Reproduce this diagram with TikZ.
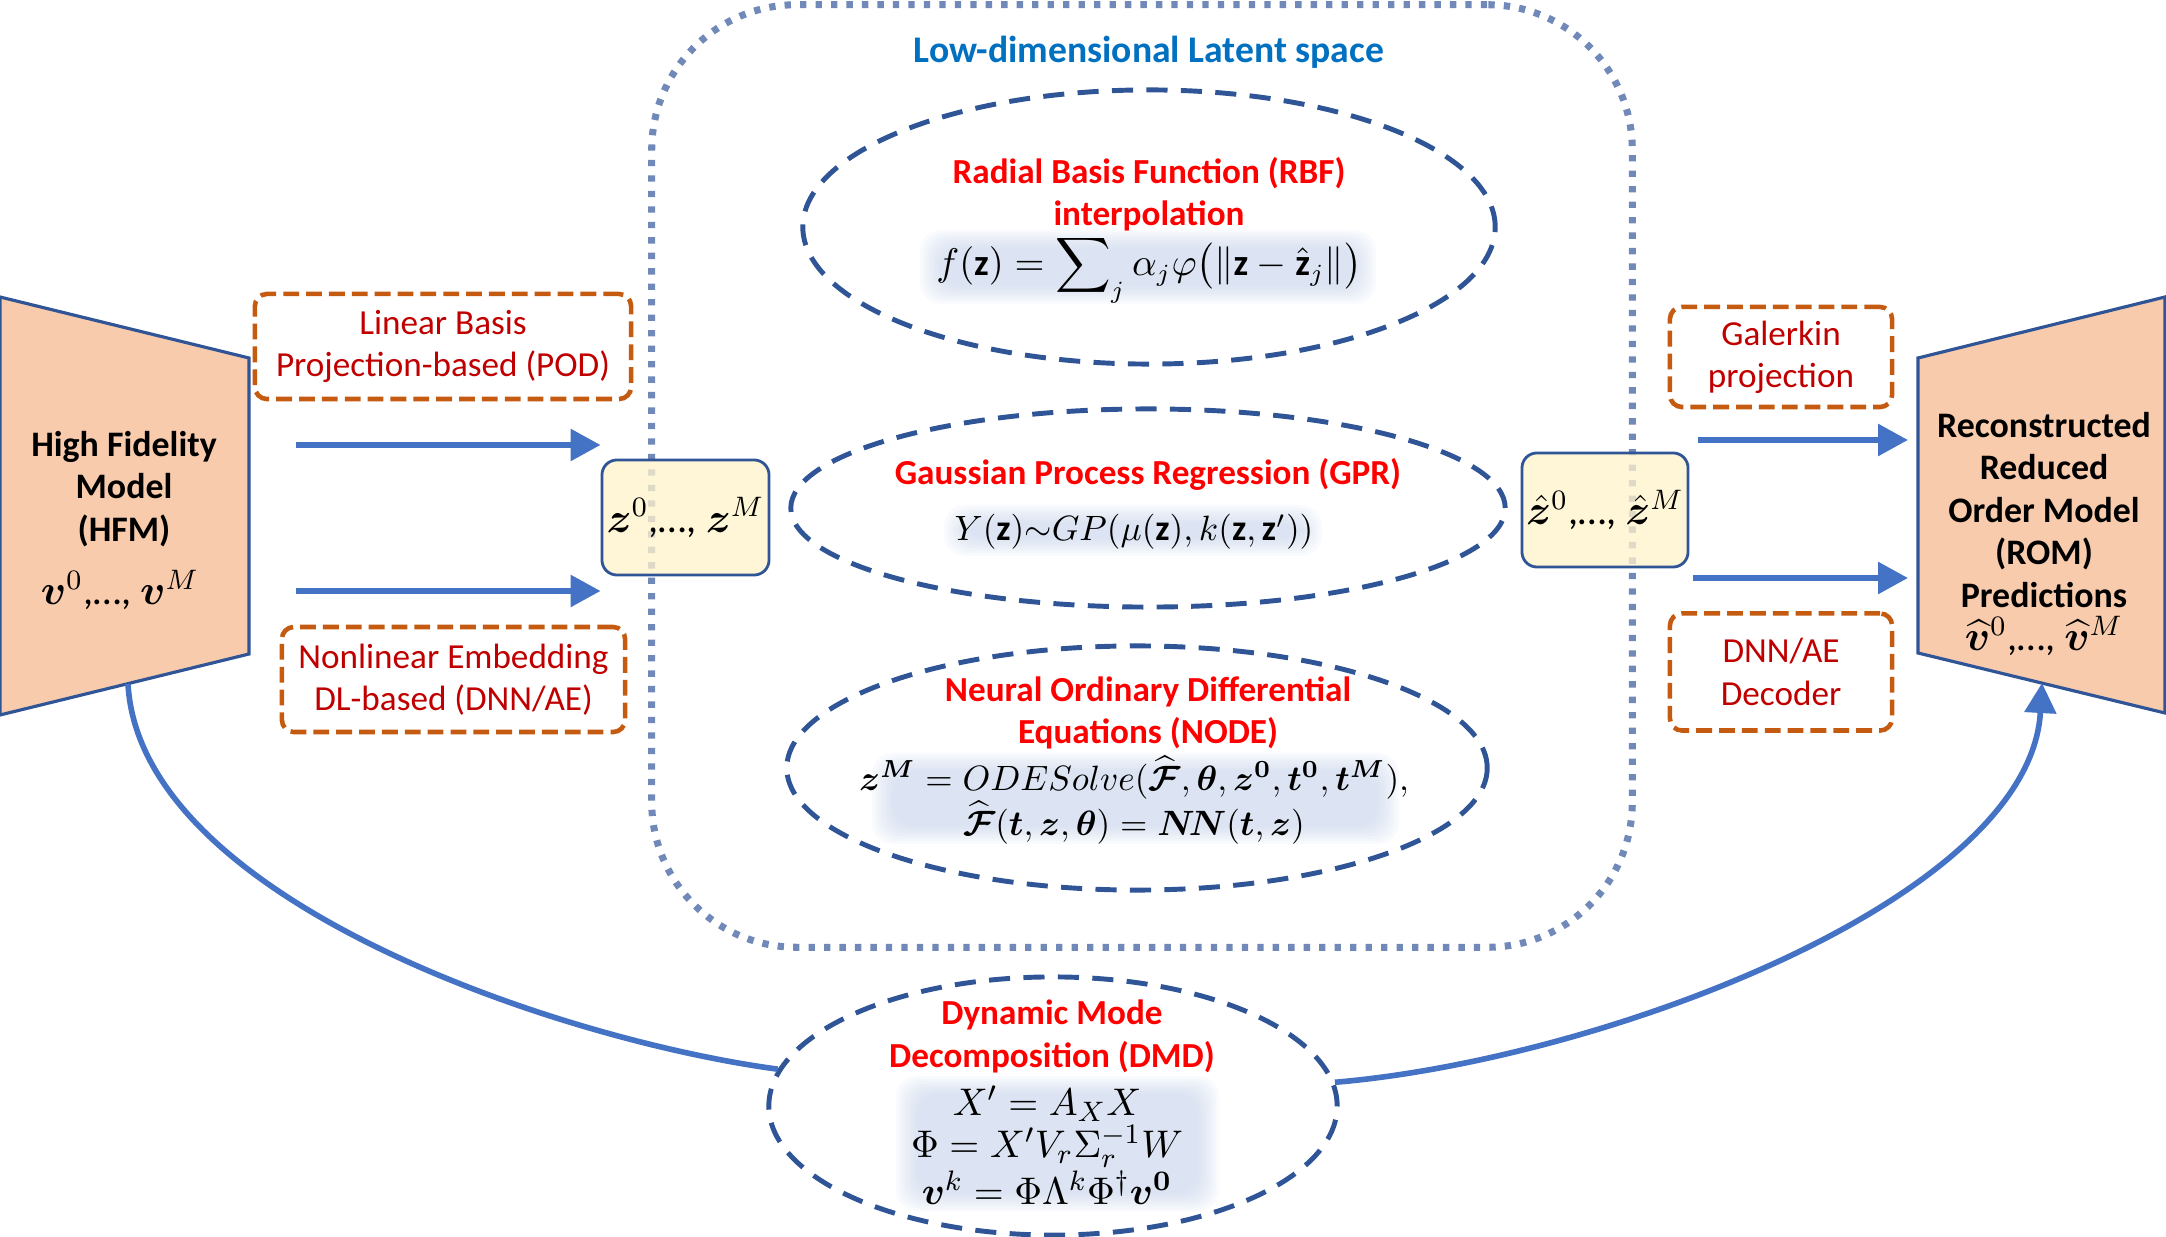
\documentclass[tikz,border=0pt]{standalone}
\usepackage{amsmath}
\usepackage{fontspec}
\setmainfont{Carlito}
\usepackage{bm}
\usetikzlibrary{shapes.geometric,arrows.meta}
\definecolor{ored}{HTML}{C00000}
\definecolor{bred}{HTML}{FF0000}
\definecolor{tblue}{HTML}{0070C0}
\definecolor{dblue}{HTML}{2F5597}
\definecolor{ablue}{HTML}{4472C4}
\definecolor{orng}{HTML}{C55A11}
\definecolor{peach}{HTML}{F8CBAD}
\definecolor{cream}{HTML}{FFF2CC}
\definecolor{dotc}{HTML}{7189B8}
\definecolor{glowc}{HTML}{C2CFE8}
\newcommand{\glowrect}[4]{\foreach \k in {0,...,7}{\fill[glowc, fill opacity=0.1, rounded corners=6pt] ({#1+3*\k},{#2+2.5*\k}) rectangle ({#3-3*\k},{#4-2.5*\k});}}
\tikzset{
  ell/.style={ellipse, draw=dblue, line width=1.4pt, dash pattern=on 6pt off 3.8pt, inner sep=0pt},
  obox/.style={draw=orng, line width=1.3pt, dash pattern=on 4.5pt off 2pt, rounded corners=0.12cm, text=ored, align=center, font=\fontsize{10}{12}\selectfont, inner sep=0pt},
  zbox/.style={draw=dblue, line width=0.8pt, fill=cream, fill opacity=0.78, text opacity=1, rounded corners=0.15cm, inner sep=0pt},
  trap/.style={draw=dblue, line width=0.9pt, fill=peach},
  arr/.style={ablue, line width=1.7pt, -{Triangle[length=0.3cm,width=0.31cm]}},
  conn/.style={ablue, line width=1.6pt},
  ttl/.style={text=bred, font=\bfseries\fontsize{10}{12}\selectfont, align=center, inner sep=0.5pt},
  frm/.style={font=\fontsize{10.5}{12.5}\selectfont, align=center, inner sep=0.5pt},
  blk/.style={font=\bfseries\fontsize{10.2}{12.1}\selectfont, align=center, inner sep=0.5pt},
  latent/.style={draw=dotc, line width=2pt, dash pattern=on 1.8pt off 2.6pt, rounded corners=1.45cm, inner sep=0pt}
}
\begin{document}
\begin{tikzpicture}[x=0.01cm,y=-0.01cm]
\useasboundingbox (0,0) rectangle (2166,1237);
% latent space container
\node[latent, minimum width=9.8cm, minimum height=9.42cm] (lat) at (1142,476) {};
\node[font=\bfseries\fontsize{10.7}{12}\selectfont, text=tblue, inner sep=0.5pt] (lttl) at (1149,52) {Low-dimensional Latent space};
% glows
\glowrect{920}{230}{1376}{304}
\glowrect{944}{505}{1322}{556}
\glowrect{872}{753}{1399}{844}
\glowrect{896}{1076}{1219}{1211}
% ellipses
\node[ell, minimum width=6.92cm, minimum height=2.74cm] (rbf) at (1149,227) {};
\node[ell, minimum width=7.14cm, minimum height=1.98cm] (gpr) at (1148,508) {};
\node[ell, minimum width=7.0cm, minimum height=2.44cm] (node) at (1137,768) {};
\node[ell, minimum width=5.68cm, minimum height=2.58cm] (dmd) at (1053,1106) {};
% ellipse contents
\node[ttl] (rbft) at (1149,194) {Radial Basis Function (RBF)\\interpolation};
\node[frm] (rbff) at (1149,269) {$f(\mathbf{z})=\displaystyle\sum\nolimits_j \alpha_j\varphi\big(\|\mathbf{z}-\hat{\mathbf{z}}_j\|\big)$};
\node[ttl] (gprt) at (1148,474) {Gaussian Process Regression (GPR)};
\node[frm, font=\fontsize{10.2}{12.5}\selectfont] (gprf) at (1134,532) {$Y(\mathbf{z}){\sim}GP(\mu(\mathbf{z}),k(\mathbf{z},\mathbf{z}'))$};
\node[ttl] (nodet) at (1148,713) {Neural Ordinary Differential\\Equations (NODE)};
\node[frm, font=\fontsize{10.3}{12.8}\selectfont] (nodef) at (1134,800) {$\bm{z}^{\bm{M}}=ODESolve(\widehat{\bm{\mathcal{F}}},\bm{\theta},\bm{z}^{\bm{0}},\bm{t}^{\bm{0}},\bm{t}^{\bm{M}}),$\\$\widehat{\bm{\mathcal{F}}}(\bm{t},\bm{z},\bm{\theta})=\bm{N\!N}(\bm{t},\bm{z})$};
\node[ttl, font=\bfseries\fontsize{10}{12.2}\selectfont] (dmdt) at (1052,1036) {Dynamic Mode\\Decomposition (DMD)};
\node[frm, font=\fontsize{10.8}{12}\selectfont] (dmdf) at (1047,1145) {$X'=A_XX$\\$\Phi=X'V_r\Sigma_r^{-1}W$\\$\bm{v}^k=\Phi\Lambda^k\Phi^\dagger\bm{v}^{\bm{0}}$};
% left side
\draw[trap] (0,297) -- (249,358) -- (249,654) -- (0,715) -- cycle;
\node[blk] (hfm) at (124,489) {High Fidelity\\Model\\(HFM)};
\node[font=\fontsize{11.5}{13}\selectfont, inner sep=0.5pt] (hfmv) at (120,590) {$\bm{v}^0$,…, $\bm{v}^M$};
\node[obox, minimum width=3.76cm, minimum height=1.05cm] (pod) at (443,346.5) {Linear Basis\\Projection-based (POD)};
\node[obox, minimum width=3.43cm, minimum height=1.05cm] (dnn) at (453.5,679.5) {Nonlinear Embedding\\DL-based (DNN/AE)};
\node[zbox, minimum width=1.67cm, minimum height=1.15cm] (zl) at (685.5,517.5) {\fontsize{11.5}{13}\selectfont$\bm{z}^0$,…, $\bm{z}^M$};
\coordinate (a1) at (296,445);
\coordinate (a2) at (296,591);
\draw[arr] (a1) -- (a1 -| zl.west);
\draw[arr] (a2) -- (a2 -| zl.west);
% right side
\node[zbox, minimum width=1.66cm, minimum height=1.14cm] (zr) at (1605,510) {\fontsize{11.5}{13}\selectfont$\hat{\bm{z}}^0$,…, $\hat{\bm{z}}^M$};
\draw[trap] (1918,358) -- (2165,297) -- (2165,713) -- (1918,653) -- cycle;
\node[blk] (rom) at (2044,510) {Reconstructed\\Reduced\\Order Model\\(ROM)\\Predictions};
\node[font=\fontsize{11.5}{13}\selectfont, inner sep=0.5pt] (romv) at (2044,636) {$\widehat{\bm{v}}^0$,…, $\widehat{\bm{v}}^M$};
\node[obox, minimum width=2.22cm, minimum height=1.0cm] (gal) at (1781,357) {Galerkin\\projection};
\node[obox, minimum width=2.22cm, minimum height=1.17cm] (dec) at (1781,672) {DNN/AE\\Decoder};
\coordinate (b1) at (1698,440);
\coordinate (b2) at (1693,578);
\coordinate (b1e) at (1908,440);
\coordinate (b2e) at (1908,578);
\draw[arr] (b1) -- (b1e);
\draw[arr] (b2) -- (b2e);
% DMD connectors
\coordinate (hfmb) at (128,684);
\coordinate (romb) at (2042,683);
\draw[conn] (hfmb) .. controls (140,900) and (560,1040) .. (dmd);
\draw[conn, -{Triangle[length=0.3cm,width=0.31cm]}] (dmd) .. controls (1600,1060) and (2030,900) .. (romb);
\end{tikzpicture}
\end{document}
